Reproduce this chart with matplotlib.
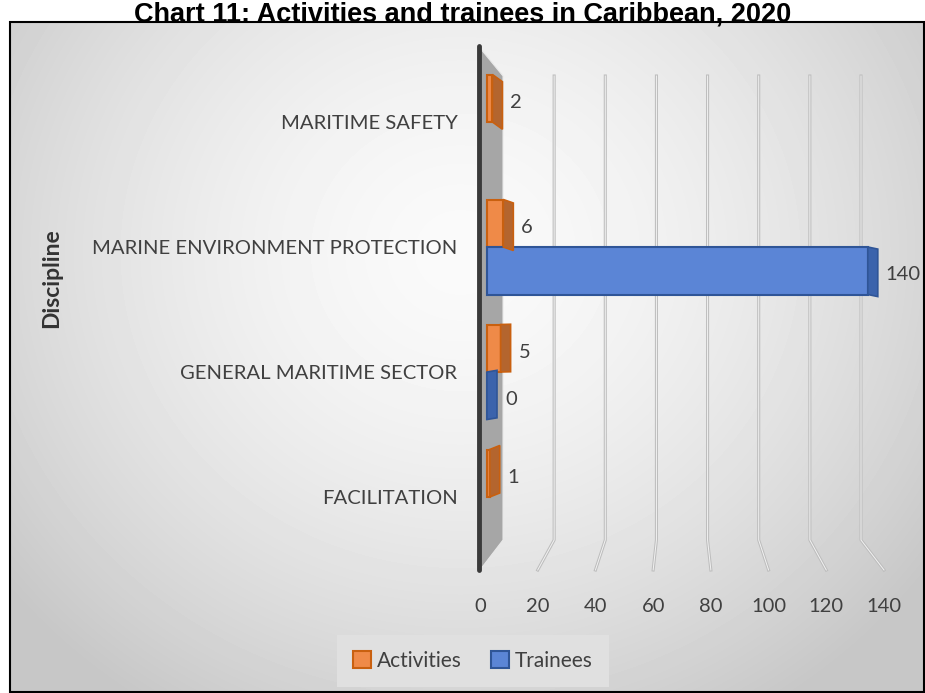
import matplotlib
matplotlib.use("Agg")
import matplotlib.pyplot as plt
import numpy as np
from matplotlib.patches import Patch, Rectangle, Polygon

# data (bottom to top)
categories = ['FACILITATION', 'GENERAL MARITIME SECTOR',
              'MARINE ENVIRONMENT PROTECTION', 'MARITIME SAFETY']
activities = [1, 5, 6, 2]
trainees = [None, 0, 140, None]
x_ticks = [0, 20, 40, 60, 80, 100, 120, 140]

W, H = 925, 693
TXT = '#404040'
FONT = 'Lato'

fig = plt.figure(figsize=(W / 100, H / 100), dpi=100)


def fpos(left, top, right, bottom):
    return [left / W, 1 - bottom / H, (right - left) / W, (bottom - top) / H]


# --- decoration layer in pixel coordinates ---
deco = fig.add_axes([0, 0, 1, 1], zorder=1)
deco.set_xlim(0, W)
deco.set_ylim(H, 0)
deco.axis('off')

yy, xx = np.mgrid[0:670, 0:914]
r = np.sqrt(((xx - 450) / 560.0) ** 2 + ((yy - 230) / 520.0) ** 2)
g = np.clip(0.98 - 0.19 * r ** 1.6, 0.78, 1)
deco.imshow(g, cmap='gray', vmin=0, vmax=1, extent=(10, 924, 692, 22),
            aspect='auto', zorder=0)
deco.add_patch(Rectangle((10, 22), 914, 670, fill=False, ec='black', lw=1.5, zorder=5))

# side wall
deco.add_patch(Polygon([(480, 48), (503, 76), (503, 540), (480, 570)],
                       closed=True, fc='#A6A6A6', ec='#E8E8E8', lw=0.8, zorder=2))
deco.plot([479, 479], [46, 570], color='#3A3A3A', lw=3.5, solid_capstyle='round', zorder=3)

# perspective gridlines
for v in x_ticks[1:]:
    bx = 503 + v * (861 - 503) / 140
    fx = 480 + v * (884 - 480) / 140
    deco.plot([bx, bx, fx], [76, 540, 570], color='#BDBDBD', lw=2.2, zorder=2)
    deco.plot([bx, bx, fx], [76, 540, 570], color='#F2F2F2', lw=0.7, zorder=2)

# --- main bars ---
XS, YS = 2.72, 125.0
L, R, T, B = 470, 910, 46, 570
ax = fig.add_axes(fpos(L, T, R, B), zorder=2)
ax.set_facecolor('none')
ax.set_xlim((L - 487) / XS, (R - 487) / XS)
ax.set_ylim((497 - B) / YS, (497 - T) / YS)
for s in ax.spines.values():
    s.set_visible(False)
ax.set_xticks([])

ypos = np.arange(len(categories))
bh = 0.38
series = [
    (activities, +0.19, '#EF8A48', '#C9600F', '#B4652E'),
    (trainees, -0.19, '#5B85D6', '#2F5597', '#3B63AC'),
]
dxd = 10 / XS
for vals, off, fc, ec, sc in series:
    for yi, v in zip(ypos, vals):
        if v is None:
            continue
        yc = yi + off
        yb, yt = yc - bh / 2, yc + bh / 2
        ax.barh(yc, v, height=bh, left=0, color=fc, edgecolor=ec, lw=1.5, zorder=3)
        ypx = 497 - yc * YS
        dyd = -(340 - ypx) * 0.03 / YS
        ax.fill([v, v + dxd, v + dxd, v], [yb, yb + dyd, yt + dyd, yt],
                color=sc, ec=ec, lw=1.2, zorder=4)
        ax.text(v + dxd + 8 / XS, yc - 4 / YS, str(v), ha='left', va='center',
                fontsize=14.5, color=TXT, family=FONT, zorder=5)

ax.set_yticks(ypos)
ax.set_yticklabels(categories, fontsize=14.6, color=TXT, family=FONT)
ax.tick_params(axis='y', length=0, pad=9)
ax.set_ylabel('Discipline', fontsize=16.5, fontweight='bold', color='#333333', family=FONT)
ax.yaxis.set_label_coords((62 - L) / (R - L), (B - 278) / (B - T))

# --- value axis labels (front plane) ---
ax2 = fig.add_axes(fpos(480, 570, 884, 580), zorder=2)
ax2.set_facecolor('none')
ax2.set_xlim(0, 140)
ax2.set_xticks(x_ticks)
ax2.set_xticklabels([str(t) for t in x_ticks], fontsize=14.5, color=TXT, family=FONT)
ax2.tick_params(axis='x', length=0, pad=13)
ax2.set_yticks([])
for s in ax2.spines.values():
    s.set_visible(False)

# title (kept inside the image)
fig.text(0.5, 1 - 21 / H, 'Chart 11: Activities and trainees in Caribbean, 2020',
         ha='center', va='baseline', fontsize=19.5, fontweight='bold',
         family='Liberation Sans', color='black', zorder=6)

handles = [Patch(facecolor='#EF8A48', edgecolor='#C9600F', lw=1.5),
           Patch(facecolor='#5B85D6', edgecolor='#2F5597', lw=1.5)]
leg = fig.legend(handles, ['Activities', 'Trainees'], loc='center',
                 bbox_to_anchor=(473 / W, 1 - 661 / H), ncol=2, frameon=True,
                 fancybox=False, facecolor='#E0E0E0', edgecolor='none', framealpha=1,
                 handlelength=0.85, handleheight=0.85, handletextpad=0.3,
                 columnspacing=1.4, borderpad=0.75, borderaxespad=0,
                 prop={'family': FONT, 'size': 15})
for t in leg.get_texts():
    t.set_color(TXT)

fig.savefig('out.png', dpi=100)
